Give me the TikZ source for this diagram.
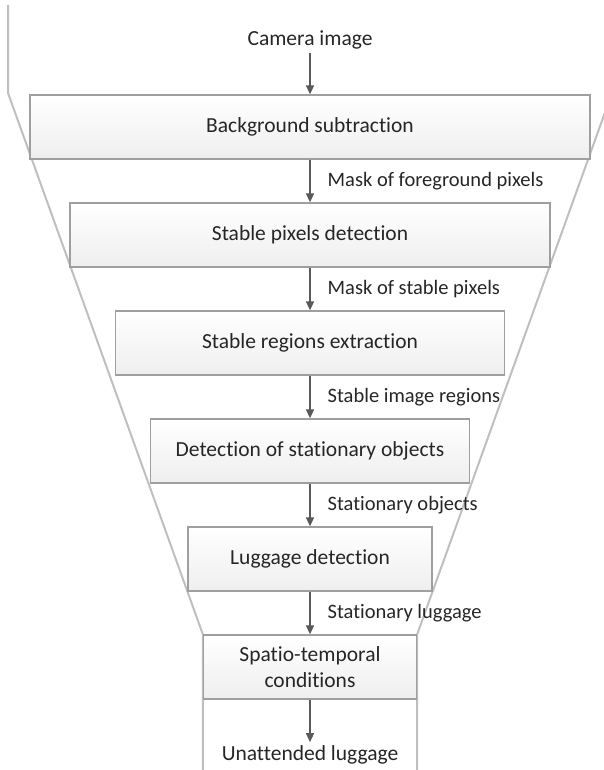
\documentclass[tikz,border=0pt]{standalone}
\usepackage{fontspec}
\setmainfont{Carlito}[Ligatures = NoCommon]
\usetikzlibrary{positioning, arrows.meta, backgrounds}

\tikzset{
	stage/.style = {draw = gray!75, line width = 1.3pt, top color = white, bottom color = gray!13,
		minimum height = 64pt, align = center, inner sep = 0pt},
	flow/.style = {-{Triangle[length = 9pt, width = 8pt]}, draw = black!65, line width = 1.4pt},
	tag/.style = {right = 17pt, inner sep = 0pt, font = \fontsize{20.5}{25}\selectfont},
	funnel/.style = {draw = black!25, line width = 2pt}
}

\begin{document}
\begin{tikzpicture}[x = 1pt, y = -1pt, node distance = 42.7pt, font = \fontsize{21.5}{26}\selectfont, text = black!85]
		\useasboundingbox (0,0) rectangle (604,770);

		\node [stage, minimum width = 560pt] (bg) at (310,127) {Background subtraction};
		\node [stage, minimum width = 480pt, below = of bg] (pix) {Stable pixels detection};
		\node [stage, minimum width = 389pt, below = of pix] (reg) {Stable regions extraction};
		\node [stage, minimum width = 319pt, below = of reg] (obj) {Detection of stationary objects};
		\node [stage, minimum width = 244pt, below = of obj] (lug) {Luggage detection};
		\node [stage, minimum width = 213pt, below = of lug] (st) {Spatio-temporal\\conditions};

		\node (cam) at (310,40) {Camera image};
		\node (out) at (310,755) {Unattended luggage};

		\draw [flow] (cam) -- (bg);
		\draw [flow] (bg) -- node [tag] {Mask of foreground pixels} (pix);
		\draw [flow] (pix) -- node [tag] {Mask of stable pixels} (reg);
		\draw [flow] (reg) -- node [tag] {Stable image regions} (obj);
		\draw [flow] (obj) -- node [tag] {Stationary objects} (lug);
		\draw [flow] (lug) -- node [tag] {Stationary luggage} (st);
		\draw [flow] (st) -- (out.north);

		% funnel behind the stages
		\begin{scope}[on background layer]
			\draw [funnel] (8,5) -- (8,93) -- (st.north west) -- (st.south west) -- ++(0,80);
			\draw [funnel] (612,5) -- (612,93) -- (st.north east) -- (st.south east) -- ++(0,80);
		\end{scope}
	\end{tikzpicture}
\end{document}
